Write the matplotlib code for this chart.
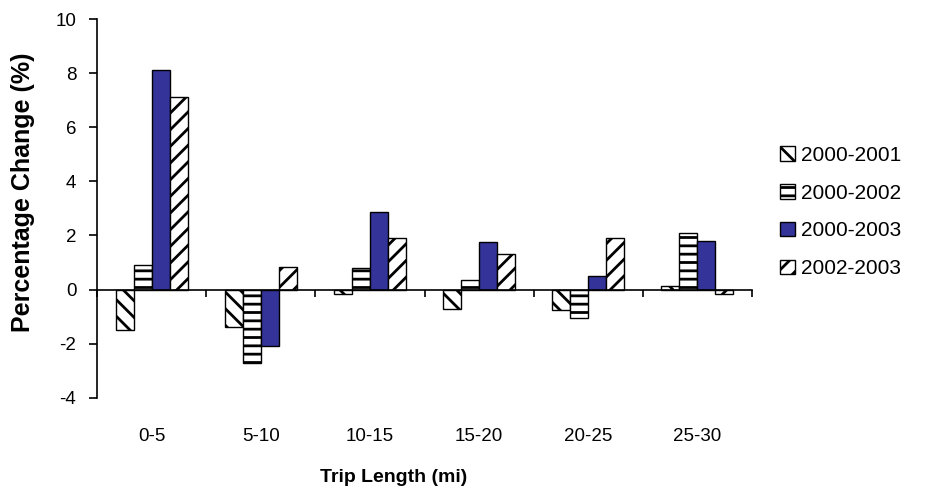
import numpy as np
import matplotlib
matplotlib.use("Agg")
import matplotlib.pyplot as plt

plt.rcParams['font.family'] = ['Liberation Sans', 'DejaVu Sans']
plt.rcParams['hatch.linewidth'] = 2.0
plt.rcParams['axes.unicode_minus'] = False

# data
categories = ['0-5', '5-10', '10-15', '15-20', '20-25', '25-30']
series_names = ['2000-2001', '2000-2002', '2000-2003', '2002-2003']
v_2000_2001 = [-1.5, -1.4, -0.15, -0.7, -0.75, 0.15]
v_2000_2002 = [0.9, -2.7, 0.8, 0.35, -1.05, 2.1]
v_2000_2003 = [8.1, -2.1, 2.85, 1.75, 0.5, 1.8]
v_2002_2003 = [7.1, 0.85, 1.9, 1.3, 1.9, -0.15]
values = [v_2000_2001, v_2000_2002, v_2000_2003, v_2002_2003]

hatches = ['\\\\', '--', '', '//']
faces = ['white', 'white', '#333399', 'white']

fig = plt.figure(figsize=(9.25, 5.01), dpi=100)
ax = fig.add_axes([0.105, 0.206, 0.708, 0.756])

x = np.arange(len(categories))
w = 0.165
for i, (name, vals) in enumerate(zip(series_names, values)):
    ax.bar(x + (i - 1.5) * w, vals, width=w, color=faces[i], hatch=hatches[i],
           edgecolor='black', linewidth=1.0, label=name)

ax.set_xlim(-0.5, len(categories) - 0.5)
ax.set_ylim(-4, 10)
ax.set_yticks(np.arange(-4, 11, 2))
ax.tick_params(axis='y', labelsize=13.5, length=6, width=1.2, pad=9)

# horizontal axis crosses at zero, ticks between categories
ax.spines['bottom'].set_position(('data', 0))
ax.spines['top'].set_visible(False)
ax.spines['right'].set_visible(False)
ax.spines['left'].set_linewidth(1.2)
ax.spines['bottom'].set_linewidth(1.2)
ax.set_xticks(np.arange(len(categories) + 1) - 0.5)
ax.set_xticklabels([])
ax.tick_params(axis='x', length=5, width=1.2)

sec = ax.secondary_xaxis(0)
sec.set_xticks(x)
sec.set_xticklabels(categories, fontsize=13.5)
sec.tick_params(length=0, pad=22)
sec.spines['bottom'].set_visible(False)

fig.text(23 / 925, 1 - 192 / 501, 'Percentage Change (%)', fontsize=18, fontweight='bold',
         rotation=90, ha='center', va='center')
fig.text(394 / 925, 1 - 478 / 501, 'Trip Length (mi)', fontsize=14, fontweight='bold',
         ha='center', va='center')

ax.legend(loc='center left', bbox_to_anchor=(780 / 925, 1 - 212 / 501),
          bbox_transform=fig.transFigure, frameon=False, fontsize=15,
          borderpad=0, borderaxespad=0,
          handlelength=0.7, handleheight=0.7, handletextpad=0.3, labelspacing=0.9)

fig.savefig('out.png', dpi=100)
